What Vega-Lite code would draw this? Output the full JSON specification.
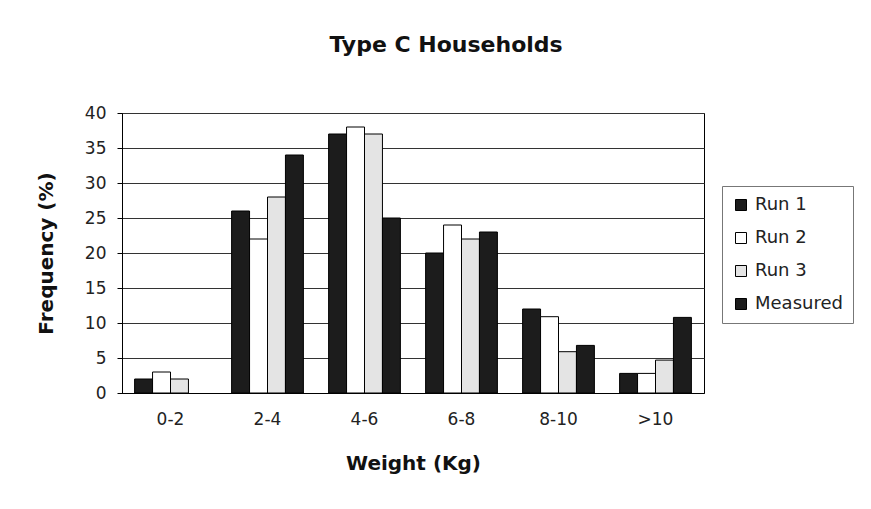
{
  "$schema": "https://vega.github.io/schema/vega-lite/v6.json",
  "width": 582,
  "height": 280,
  "autosize": "none",
  "padding": {"left": 122, "top": 113, "right": 167, "bottom": 116},
  "background": "white",
  "title": {"text": "Type C Households", "fontSize": 22, "font": "DejaVu Sans", "fontWeight": "bold", "color": "#111", "offset": 47, "dx": 33},
  "data": {"values": [
    {"weight": "0-2", "series": "Run 1", "freq": 2},
    {"weight": "0-2", "series": "Run 2", "freq": 3},
    {"weight": "0-2", "series": "Run 3", "freq": 2},
    {"weight": "2-4", "series": "Run 1", "freq": 26},
    {"weight": "2-4", "series": "Run 2", "freq": 22},
    {"weight": "2-4", "series": "Run 3", "freq": 28},
    {"weight": "2-4", "series": "Measured", "freq": 34},
    {"weight": "4-6", "series": "Run 1", "freq": 37},
    {"weight": "4-6", "series": "Run 2", "freq": 38},
    {"weight": "4-6", "series": "Run 3", "freq": 37},
    {"weight": "4-6", "series": "Measured", "freq": 25},
    {"weight": "6-8", "series": "Run 1", "freq": 20},
    {"weight": "6-8", "series": "Run 2", "freq": 24},
    {"weight": "6-8", "series": "Run 3", "freq": 22},
    {"weight": "6-8", "series": "Measured", "freq": 23},
    {"weight": "8-10", "series": "Run 1", "freq": 12},
    {"weight": "8-10", "series": "Run 2", "freq": 10.9},
    {"weight": "8-10", "series": "Run 3", "freq": 5.9},
    {"weight": "8-10", "series": "Measured", "freq": 6.8},
    {"weight": ">10", "series": "Run 1", "freq": 2.8},
    {"weight": ">10", "series": "Run 2", "freq": 2.8},
    {"weight": ">10", "series": "Run 3", "freq": 4.7},
    {"weight": ">10", "series": "Measured", "freq": 10.8}
  ]},
  "mark": {"type": "bar", "stroke": "black", "strokeWidth": 1},
  "encoding": {
    "x": {
      "field": "weight", "type": "nominal",
      "sort": ["0-2", "2-4", "4-6", "6-8", "8-10", ">10"],
      "scale": {"paddingInner": 0.26, "paddingOuter": 0.13},
      "axis": {"title": "Weight (Kg)", "labelAngle": 0, "labelFontSize": 17, "labelFont": "DejaVu Sans", "labelColor": "#222", "labelPadding": 18, "ticks": false, "domainColor": "black", "titleFontSize": 20, "titleFont": "DejaVu Sans", "titleFontWeight": "bold", "titleColor": "#111", "titlePadding": 26}
    },
    "xOffset": {"field": "series", "type": "nominal", "sort": ["Run 1", "Run 2", "Run 3", "Measured"], "scale": {"paddingInner": 0, "paddingOuter": 0}},
    "y": {
      "field": "freq", "type": "quantitative",
      "scale": {"domain": [0, 40]},
      "axis": {"title": "Frequency (%)", "values": [0, 5, 10, 15, 20, 25, 30, 35, 40], "labelFontSize": 17, "labelFont": "DejaVu Sans", "labelColor": "#222", "labelPadding": 11, "tickSize": 5, "tickColor": "black", "domainColor": "black", "gridColor": "#333", "gridWidth": 1, "titleFontSize": 20, "titleFont": "DejaVu Sans", "titleFontWeight": "bold", "titleColor": "#111", "titlePadding": 28}
    },
    "color": {
      "field": "series", "type": "nominal",
      "sort": ["Run 1", "Run 2", "Run 3", "Measured"],
      "scale": {"domain": ["Run 1", "Run 2", "Run 3", "Measured"], "range": ["#1c1c1c", "#ffffff", "#e4e4e4", "#1c1c1c"]},
      "legend": {"title": null, "orient": "none", "legendX": 600, "legendY": 73, "symbolType": "square", "symbolSize": 121, "symbolStrokeColor": "black", "symbolStrokeWidth": 1, "labelFontSize": 18, "labelFont": "DejaVu Sans", "labelColor": "#222", "rowPadding": 15, "padding": 10, "strokeColor": "#777", "labelOffset": 5}
    }
  },
  "config": {"view": {"stroke": "black", "strokeWidth": 1}}
}
